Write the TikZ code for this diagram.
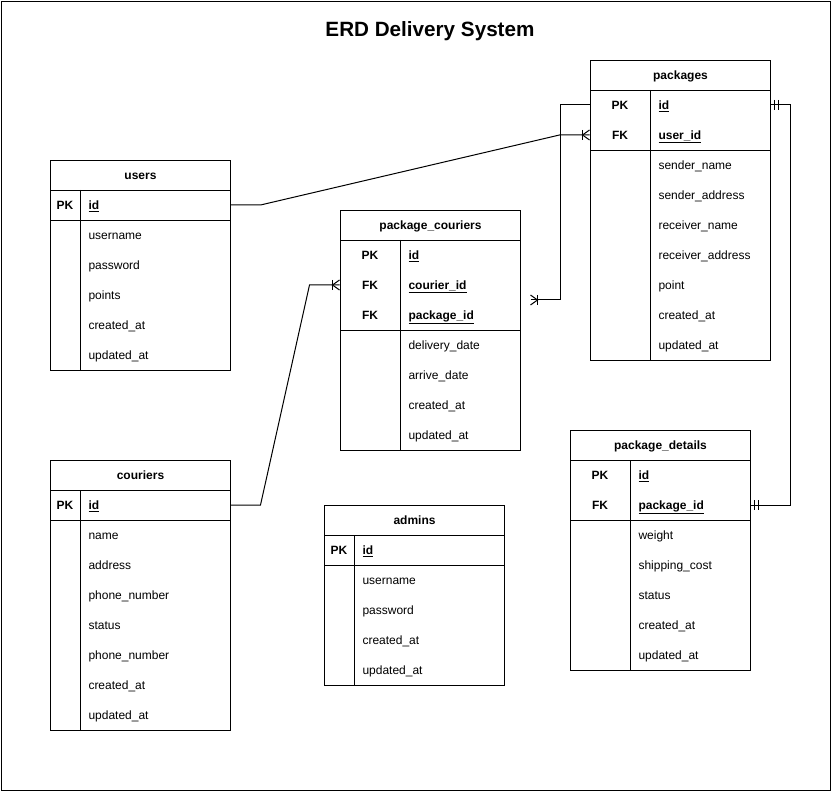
\documentclass[tikz,border=0pt]{standalone}
\usepackage{fontspec}
\setmainfont{Liberation Sans}
\usetikzlibrary{calc}
\begin{document}
\begin{tikzpicture}[x=0.75pt,y=-0.75pt,line width=0.75pt,font=\fontsize{9pt}{11pt}\selectfont,
  box/.style={draw,minimum width=135pt,minimum height=#1*0.75pt,inner sep=0pt,anchor=north west},
  hdr/.style={box=30,font=\fontsize{9pt}{11pt}\selectfont\bfseries,text height=8.1pt,text depth=1.9pt},
  row/.style={minimum width=135pt,minimum height=22.5pt,inner sep=0pt},
  fld/.style={anchor=west,inner sep=0pt,text height=8.1pt,text depth=1.9pt},
  kname/.style={fld,font=\fontsize{9pt}{11pt}\selectfont\bfseries},
  klbl/.style={inner sep=0pt,text height=8.1pt,text depth=1.9pt,font=\fontsize{9pt}{11pt}\selectfont\bfseries},
  conn/.style={draw,line width=0.75pt},
  onemany/.pic={\draw (0,-5) -- (-7,0) -- (0,5); \draw (-7,-5) -- (-7,5);},
  mandone/.pic={\draw (4,-5) -- (4,5); \draw (8,-5) -- (8,5);}
]
\useasboundingbox (0,0) rectangle (831,791);
\node[draw,minimum width=621.75pt,minimum height=591.75pt,inner sep=0pt,anchor=north west] (frame) at (1,1) {};
\node[font=\fontsize{15.5pt}{18pt}\selectfont\bfseries] (title) at (430,31) {ERD Delivery System};

% ---------- users ----------
\node[hdr] (users) at (50,160) {users};
\node[box=30] (users-keys) at (50,190) {};
\node[box=150] (users-body) at (50,220) {};
\draw ($(users-keys.north west)+(30,0)$) -- ($(users-body.south west)+(30,0)$);
\node[row] (users-id) at (140,205) {};
\node[klbl] (users-pk) at (65,205) {PK};
\node[kname] (users-idt) at (88,205) {\underline{id}};
\foreach \t [count=\i] in {username,password,points,created\_at,updated\_at}
  \node[fld] (users-f\i) at (88,205+30*\i) {\t};

% ---------- couriers ----------
\node[hdr] (couriers) at (50,460) {couriers};
\node[box=30] (couriers-keys) at (50,490) {};
\node[box=210] (couriers-body) at (50,520) {};
\draw ($(couriers-keys.north west)+(30,0)$) -- ($(couriers-body.south west)+(30,0)$);
\node[row] (couriers-id) at (140,505) {};
\node[klbl] (couriers-pk) at (65,505) {PK};
\node[kname] (couriers-idt) at (88,505) {\underline{id}};
\foreach \t [count=\i] in {name,address,phone\_number,status,phone\_number,created\_at,updated\_at}
  \node[fld] (couriers-f\i) at (88,505+30*\i) {\t};

% ---------- package_couriers ----------
\node[hdr] (pc) at (340,210) {package\_couriers};
\node[box=90] (pc-keys) at (340,240) {};
\node[box=120] (pc-body) at (340,330) {};
\draw ($(pc-keys.north west)+(60,0)$) -- ($(pc-body.south west)+(60,0)$);
\node[row] (pc-id) at (430,255) {};
\node[row] (pc-courier) at (430,285) {};
\node[row] (pc-package) at (430,315) {};
\node[klbl] (pc-pk) at (370,255) {PK};
\node[klbl] (pc-fk1) at (370,285) {FK};
\node[klbl] (pc-fk2) at (370,315) {FK};
\node[kname] (pc-idt) at (408,255) {\underline{id}};
\node[kname] (pc-couriert) at (408,285) {\underline{courier\_id}};
\node[kname] (pc-packaget) at (408,315) {\underline{package\_id}};
\foreach \t [count=\i] in {delivery\_date,arrive\_date,created\_at,updated\_at}
  \node[fld] (pc-f\i) at (408,315+30*\i) {\t};

% ---------- packages ----------
\node[hdr] (packages) at (590,60) {packages};
\node[box=60] (packages-keys) at (590,90) {};
\node[box=210] (packages-body) at (590,150) {};
\draw ($(packages-keys.north west)+(60,0)$) -- ($(packages-body.south west)+(60,0)$);
\node[row] (packages-id) at (680,105) {};
\node[row] (packages-userid) at (680,135) {};
\node[klbl] (packages-pk) at (620,105) {PK};
\node[klbl] (packages-fk) at (620,135) {FK};
\node[kname] (packages-idt) at (658,105) {\underline{id}};
\node[kname] (packages-useridt) at (658,135) {\underline{user\_id}};
\foreach \t [count=\i] in {sender\_name,sender\_address,receiver\_name,receiver\_address,point,created\_at,updated\_at}
  \node[fld] (packages-f\i) at (658,135+30*\i) {\t};

% ---------- package_details ----------
\node[hdr] (pd) at (570,430) {package\_details};
\node[box=60] (pd-keys) at (570,460) {};
\node[box=150] (pd-body) at (570,520) {};
\draw ($(pd-keys.north west)+(60,0)$) -- ($(pd-body.south west)+(60,0)$);
\node[row] (pd-id) at (660,475) {};
\node[row] (pd-package) at (660,505) {};
\node[klbl] (pd-pk) at (600,475) {PK};
\node[klbl] (pd-fk) at (600,505) {FK};
\node[kname] (pd-idt) at (638,475) {\underline{id}};
\node[kname] (pd-packaget) at (638,505) {\underline{package\_id}};
\foreach \t [count=\i] in {weight,shipping\_cost,status,created\_at,updated\_at}
  \node[fld] (pd-f\i) at (638,505+30*\i) {\t};

% ---------- admins ----------
\node[hdr] (admins) at (324,505) {admins};
\node[box=30] (admins-keys) at (324,535) {};
\node[box=120] (admins-body) at (324,565) {};
\draw ($(admins-keys.north west)+(30,0)$) -- ($(admins-body.south west)+(30,0)$);
\node[row] (admins-id) at (414,550) {};
\node[klbl] (admins-pk) at (339,550) {PK};
\node[kname] (admins-idt) at (362,550) {\underline{id}};
\foreach \t [count=\i] in {username,password,created\_at,updated\_at}
  \node[fld] (admins-f\i) at (362,550+30*\i) {\t};

% ---------- connectors ----------
% users.id -> packages.user_id
\draw[conn] (users-id.east) -- ++(30,0) -- ($(packages-userid.west)+(-30,0)$) -- (packages-userid.west);
\pic at (packages-userid.west) {onemany};
% couriers.id -> package_couriers.courier_id
\draw[conn] (couriers-id.east) -- ++(30,0) -- ($(pc-courier.west)+(-30,0)$) -- (pc-courier.west);
\pic at (pc-courier.west) {onemany};
% package_couriers.package_id -> packages.id
\coordinate (pc-link) at ($($(pc-courier.east)!0.5!(pc-package.east)$)+(10,0)$);
\draw[conn] (pc-link) -- ++(30,0) |- (packages-id.west);
\pic[xscale=-1] at (pc-link) {onemany};
% packages.id -> package_details.package_id
\draw[conn] (packages-id.east) -- ++(20,0) |- (pd-package.east);
\pic at (packages-id.east) {mandone};
\pic at (pd-package.east) {mandone};
\end{tikzpicture}
\end{document}
